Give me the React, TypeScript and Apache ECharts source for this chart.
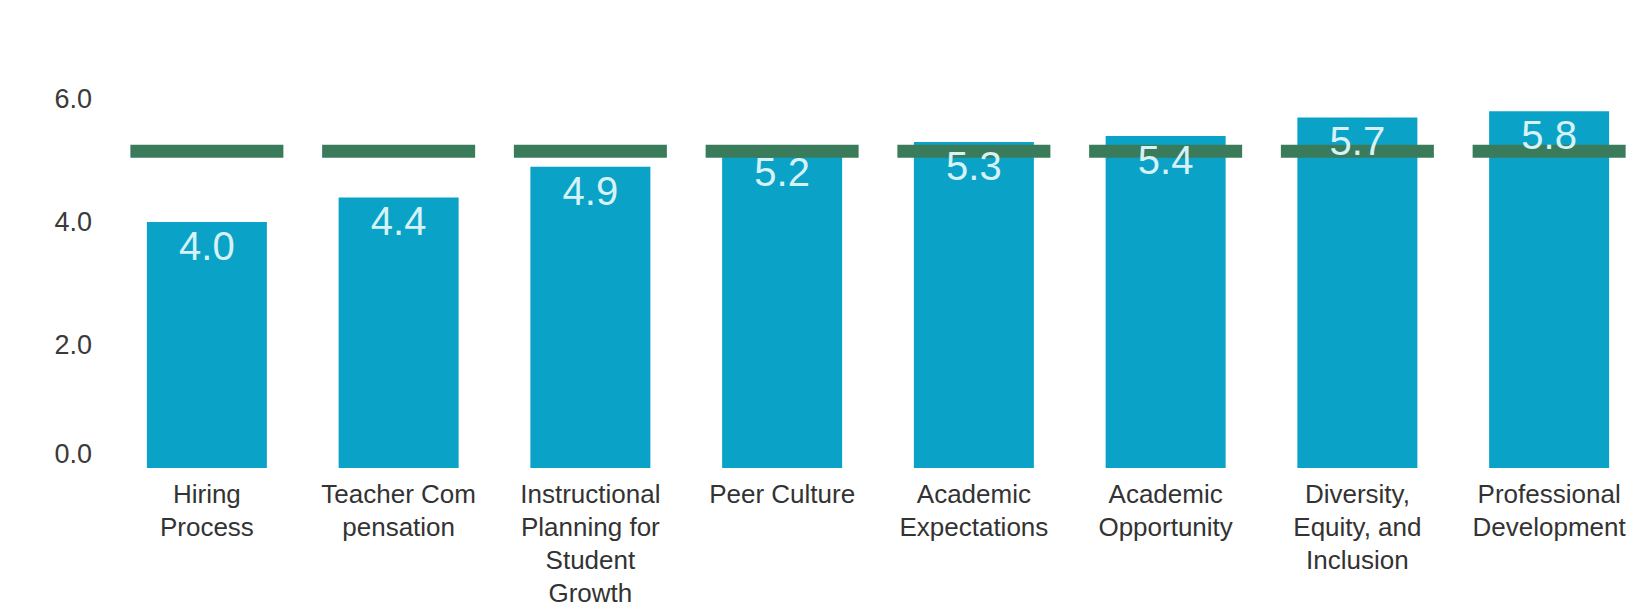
import React, { useEffect, useRef } from "react";
import * as echarts from "echarts";

const categories = [
  "Hiring\nProcess",
  "Teacher Com\npensation",
  "Instructional\nPlanning for\nStudent\nGrowth",
  "Peer Culture",
  "Academic\nExpectations",
  "Academic\nOpportunity",
  "Diversity,\nEquity, and\nInclusion",
  "Professional\nDevelopment",
];
const scores = [4.0, 4.4, 4.9, 5.2, 5.3, 5.4, 5.7, 5.8];
const targets = [5.15, 5.15, 5.15, 5.15, 5.15, 5.15, 5.15, 5.15];
const yTicks = [0, 2, 4, 6];

const FONT = "'Liberation Sans', Arial, sans-serif";

export default function App() {
  const ref = useRef<HTMLDivElement>(null);
  useEffect(() => {
    document.body.style.margin = "0";
    const chart = echarts.init(ref.current!, null, { renderer: "svg" });
    chart.setOption({
      animation: false,
      backgroundColor: "#ffffff",
      grid: { left: 111, right: -4, top: 99, bottom: 143, containLabel: false },
      xAxis: {
        type: "category",
        data: categories,
        axisLine: { show: false },
        axisTick: { show: false },
        axisLabel: {
          interval: 0,
          margin: 9,
          color: "#333333",
          fontFamily: FONT,
          fontSize: 26,
          lineHeight: 33,
        },
      },
      yAxis: {
        type: "value",
        min: yTicks[0],
        max: yTicks[yTicks.length - 1],
        interval: 2,
        splitLine: { show: false },
        axisLine: { show: false },
        axisTick: { show: false },
        axisLabel: {
          margin: 19,
          color: "#3a3a3a",
          fontFamily: FONT,
          fontSize: 27,
          formatter: (v: number) => (v === 0 ? "{z|0.0}" : v.toFixed(1)),
          rich: {
            z: {
              fontFamily: FONT,
              fontSize: 27,
              color: "#3a3a3a",
              padding: [0, 0, 28, 0],
            },
          },
        },
      },
      series: [
        {
          type: "bar",
          data: scores,
          barWidth: 120,
          z: 2,
          itemStyle: { color: "#0aa3c7" },
        },
        {
          type: "scatter",
          data: targets,
          symbol: "rect",
          symbolSize: [153, 13],
          z: 3,
          itemStyle: { color: "#3a7b5b", opacity: 1 },
        },
        {
          type: "bar",
          data: scores,
          barWidth: 120,
          barGap: "-100%",
          z: 4,
          itemStyle: { color: "rgba(0,0,0,0)" },
          label: {
            show: true,
            position: "insideTop",
            distance: 4,
            color: "#d6f2f6",
            fontFamily: FONT,
            fontSize: 40,
            formatter: (p: any) => Number(p.value).toFixed(1),
          },
        },
      ],
    });
    return () => chart.dispose();
  }, []);
  return <div ref={ref} style={{ width: 1645, height: 611 }} />;
}
